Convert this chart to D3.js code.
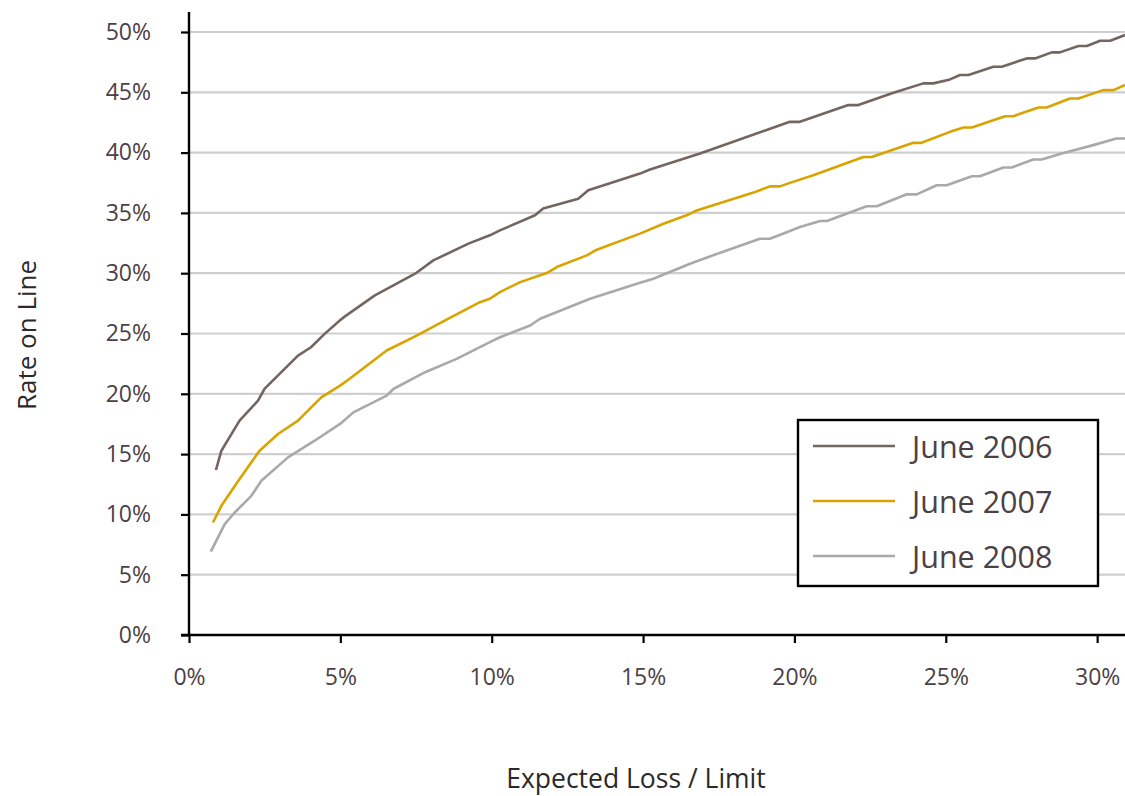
<!DOCTYPE html>
<html>
<head>
<meta charset="utf-8">
<script src="https://cdn.jsdelivr.net/npm/d3@7"></script>
<style>
  html, body { margin: 0; padding: 0; background: #fff; }
  svg { display: block; }
</style>
</head>
<body>
<svg id="chart" width="1125" height="796"></svg>
<script>
// ---- Data (values in percent) ----
const seriesNames = ["June 2006", "June 2007", "June 2008"];
const seriesColors = ["#736560", "#d9a300", "#a9a9a9"];

const x2006 = [0.89,1.07,1.67,2.28,2.5,3.6,4.03,4.48,4.99,5.14,6.14,7.47,8.07,9.23,9.94,10.27,11.43,11.7,12.86,13.19,14.9,15.23,16.88,19.85,20.18,21.78,22.11,23.27,24.26,24.59,25.14,25.47,25.75,26.57,26.85,27.67,27.95,28.5,28.77,29.38,29.66,30.1,30.43,30.92];
const y2006 = [13.68,15.28,17.77,19.43,20.43,23.17,23.86,24.97,26.1,26.4,28.16,29.96,31.06,32.45,33.14,33.55,34.8,35.36,36.18,36.88,38.26,38.6,39.92,42.55,42.55,43.94,43.94,44.96,45.74,45.74,46.07,46.43,46.43,47.12,47.12,47.81,47.81,48.31,48.31,48.84,48.84,49.28,49.28,49.75];

const x2007 = [0.79,1.07,1.67,2.33,2.94,3.6,4.37,4.99,5.25,6.53,7.52,8.46,9.61,9.94,10.27,10.94,11.82,12.15,13.14,13.47,14.9,15.67,16.44,16.77,18.7,19.19,19.52,19.85,20.62,22.28,22.55,23.93,24.2,25.14,25.58,25.86,26.96,27.23,28.06,28.33,29.1,29.38,30.2,30.54,30.92];
const y2007 = [9.33,10.71,12.93,15.28,16.67,17.77,19.71,20.68,21.15,23.59,24.83,26.08,27.6,27.88,28.43,29.26,30.01,30.51,31.48,31.95,33.28,34.1,34.8,35.2,36.74,37.2,37.2,37.49,38.12,39.64,39.64,40.81,40.81,41.72,42.08,42.08,43.02,43.02,43.74,43.74,44.49,44.49,45.18,45.18,45.6];

const x2008 = [0.72,1.18,1.51,2.06,2.39,3.27,4.15,4.99,5.43,6.53,6.75,7.8,8.84,9.94,10.27,11.27,11.6,13.25,14.9,15.34,16.55,17.76,18.86,19.19,19.85,20.18,20.85,21.07,22.39,22.72,23.71,24.04,24.7,25.03,25.86,26.13,26.9,27.18,27.89,28.17,28.83,29.87,30.64,30.92];
const y2008 = [6.92,9.19,10.16,11.54,12.79,14.73,16.11,17.5,18.46,19.85,20.4,21.79,22.9,24.28,24.69,25.66,26.22,27.88,29.2,29.54,30.79,31.89,32.86,32.86,33.5,33.83,34.33,34.33,35.55,35.55,36.54,36.54,37.29,37.29,38.04,38.04,38.76,38.76,39.43,39.43,39.93,40.62,41.17,41.17];

const xTicks = [0, 5, 10, 15, 20, 25, 30];
const yTicks = [0, 5, 10, 15, 20, 25, 30, 35, 40, 45, 50];
const xTitle = "Expected Loss / Limit";
const yTitle = "Rate on Line";

const seriesX = [x2006, x2007, x2008];
const seriesY = [y2006, y2007, y2008];
const series = seriesNames.map((name, i) => ({
  name, color: seriesColors[i],
  points: seriesX[i].map((xv, j) => ({ x: xv, y: seriesY[i][j] }))
}));

// ---- Layout ----
const svg = d3.select("#chart");
const mLeft = 189, mRight = 1125, mTop = 32, mBottom = 635;
const x = d3.scaleLinear().domain([0, 30.92]).range([mLeft, mRight]);
const y = d3.scaleLinear().domain([0, 50]).range([mBottom, mTop]);

const textColor = "#4b4145";
const fontFam = "'Open Sans', 'Noto Sans', sans-serif";

// gridlines
svg.append("g").selectAll("line").data(yTicks.filter(d => d > 0)).join("line")
  .attr("x1", mLeft).attr("x2", mRight)
  .attr("y1", d => y(d)).attr("y2", d => y(d))
  .attr("stroke", "#cfcfcf").attr("stroke-width", 2.2);

// clip
svg.append("clipPath").attr("id", "clip").append("rect")
  .attr("x", mLeft).attr("y", 0).attr("width", mRight - mLeft).attr("height", mBottom);

// lines
const line = d3.line().x(d => x(d.x)).y(d => y(d.y));
svg.append("g").attr("clip-path", "url(#clip)").selectAll("path").data(series).join("path")
  .attr("d", d => line(d.points))
  .attr("fill", "none")
  .attr("stroke", d => d.color)
  .attr("stroke-width", 2.6)
  .attr("stroke-linejoin", "round");

// y axis
const yAxis = d3.axisLeft(y).tickValues(yTicks).tickFormat(d => d + "%").tickSize(8).tickPadding(30);
const gy = svg.append("g").attr("transform", `translate(${mLeft},0)`).call(yAxis);
gy.select(".domain").remove();
gy.selectAll(".tick line").attr("stroke", "#000").attr("stroke-width", 2.2);
gy.selectAll(".tick text").attr("fill", textColor).style("font-family", fontFam).style("font-size", "23px");
svg.append("line").attr("x1", mLeft).attr("x2", mLeft).attr("y1", 12).attr("y2", mBottom + 1)
  .attr("stroke", "#000").attr("stroke-width", 2.4);

// x axis
const xAxis = d3.axisBottom(x).tickValues(xTicks).tickFormat(d => d + "%").tickSize(8).tickPadding(26);
const gx = svg.append("g").attr("transform", `translate(0,${mBottom})`).call(xAxis);
gx.select(".domain").remove();
gx.selectAll(".tick line").attr("stroke", "#000").attr("stroke-width", 2.2);
gx.selectAll(".tick text").attr("fill", textColor).style("font-family", fontFam).style("font-size", "23px");
svg.append("line").attr("x1", 181).attr("x2", mRight).attr("y1", mBottom).attr("y2", mBottom)
  .attr("stroke", "#000").attr("stroke-width", 2.4);

// titles
svg.append("text").attr("x", 636).attr("y", 788).attr("text-anchor", "middle")
  .attr("fill", "#2a2a2a").style("font-family", fontFam).style("font-size", "26.5px").text(xTitle);
svg.append("text").attr("transform", "translate(36,335) rotate(-90)").attr("text-anchor", "middle")
  .attr("fill", "#2a2a2a").style("font-family", fontFam).style("font-size", "26px").text(yTitle);

// legend
const lg = svg.append("g");
lg.append("rect").attr("x", 798).attr("y", 420).attr("width", 300).attr("height", 166)
  .attr("fill", "#fff").attr("stroke", "#000").attr("stroke-width", 2.4);
const items = lg.selectAll("g.item").data(series).join("g").attr("class", "item")
  .attr("transform", (d, i) => `translate(0,${446 + i * 55})`);
items.append("line").attr("x1", 813).attr("x2", 895).attr("y1", 0).attr("y2", 0)
  .attr("stroke", d => d.color).attr("stroke-width", 2.6);
items.append("text").attr("x", 912).attr("y", 0).attr("dy", "0.4em")
  .attr("fill", textColor).style("font-family", fontFam).style("font-size", "30.5px").text(d => d.name);
</script>
</body>
</html>
